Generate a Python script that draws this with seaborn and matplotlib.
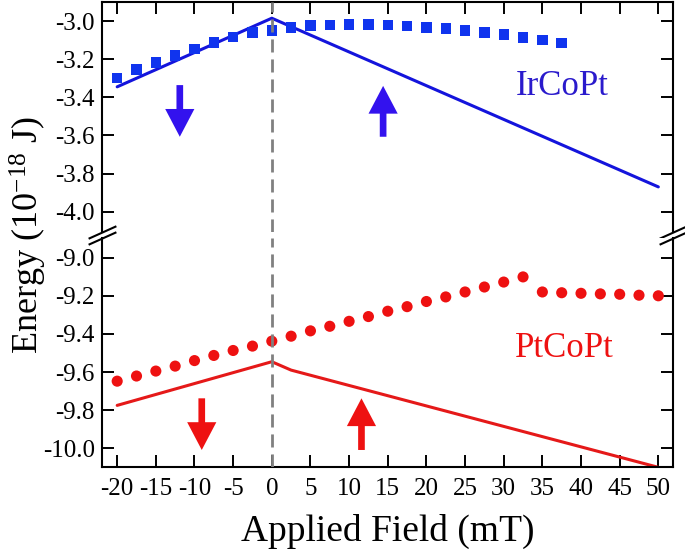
import numpy as np
import pandas as pd
import matplotlib
matplotlib.use("Agg")
import matplotlib.pyplot as plt
import seaborn as sns

# --------------------------------------------------
# Data
# --------------------------------------------------
field_ircopt = [-20, -17.5, -15, -12.5, -10, -7.5, -5, -2.5, 0, 2.5, 5, 7.5,
                10, 12.5, 15, 17.5, 20, 22.5, 25, 27.5, 30, 32.5, 35, 37.5]
energy_ircopt = [-3.300, -3.255, -3.217, -3.180, -3.147, -3.112, -3.084, -3.061,
                 -3.050, -3.033, -3.023, -3.020, -3.019, -3.018, -3.020, -3.025,
                 -3.033, -3.040, -3.050, -3.060, -3.070, -3.086, -3.100, -3.114]

field_ptcopt = [-20, -17.5, -15, -12.5, -10, -7.5, -5, -2.5, 0, 2.5, 5, 7.5, 10,
                12.5, 15, 17.5, 20, 22.5, 25, 27.5, 30, 32.5, 35, 37.5, 40, 42.5,
                45, 47.5, 50]
energy_ptcopt = [-9.648, -9.621, -9.595, -9.569, -9.540, -9.513, -9.487, -9.464,
                 -9.438, -9.412, -9.384, -9.360, -9.334, -9.309, -9.281, -9.257,
                 -9.230, -9.206, -9.180, -9.154, -9.128, -9.101, -9.180, -9.184,
                 -9.187, -9.190, -9.192, -9.197, -9.200]

# model lines
fit_field_ircopt = [-20, 0, 50]
fit_energy_ircopt = [-3.345, -2.985, -3.870]
fit_field_ptcopt = [-20, 0, 2.5, 50]
fit_energy_ptcopt = [-9.775, -9.546, -9.590, -10.100]

x_ticks = list(range(-20, 55, 5))
top_yticks = [-4.0, -3.8, -3.6, -3.4, -3.2, -3.0]
bottom_yticks = [-10.0, -9.8, -9.6, -9.4, -9.2, -9.0]

df_ir = pd.DataFrame({"field": field_ircopt, "energy": energy_ircopt})
df_pt = pd.DataFrame({"field": field_ptcopt, "energy": energy_ptcopt})

BLUE = "#1034ee"
BLUE_LINE = "#1414dc"
BLUE_TXT = "#2a1acc"
BLUE_ARROW = "#3312ee"
RED = "#ee1111"
RED_LINE = "#e51919"

# --------------------------------------------------
# Style
# --------------------------------------------------
sns.set_theme(style="ticks")
plt.rcParams["font.family"] = ["Liberation Serif", "DejaVu Serif"]
plt.rcParams["mathtext.default"] = "regular"
plt.rcParams["axes.unicode_minus"] = False
for key in ("text.color", "axes.labelcolor", "xtick.color", "ytick.color",
            "axes.edgecolor"):
    plt.rcParams[key] = "black"

fig = plt.figure(figsize=(6.85, 5.57), dpi=100)
gs = fig.add_gridspec(2, 1, left=0.1485, right=0.9825, top=0.9964,
                      bottom=0.161, hspace=0.026)
ax_top = fig.add_subplot(gs[0])
ax_bot = fig.add_subplot(gs[1], sharex=ax_top)

# --------------------------------------------------
# Top panel: IrCoPt
# --------------------------------------------------
sns.lineplot(x=fit_field_ircopt, y=fit_energy_ircopt, color=BLUE_LINE, lw=2.2, ax=ax_top)
sns.scatterplot(data=df_ir, x="field", y="energy", marker="s", s=56,
                color=BLUE, edgecolor="none", ax=ax_top, zorder=3)
ax_top.text(37.6, -3.388, "IrCoPt", color=BLUE_TXT, fontsize=25,
            ha="center", va="baseline")

# --------------------------------------------------
# Bottom panel: PtCoPt
# --------------------------------------------------
sns.lineplot(x=fit_field_ptcopt, y=fit_energy_ptcopt, color=RED_LINE, lw=2.2, ax=ax_bot)
sns.scatterplot(data=df_pt, x="field", y="energy", marker="o", s=64,
                color=RED, edgecolor="none", ax=ax_bot, zorder=3)
ax_bot.text(37.9, -9.52, "PtCoPt", color=RED, fontsize=25,
            ha="center", va="baseline")

# arrows
arrow_kw = dict(arrowstyle="simple,head_length=1.0,head_width=1.05,tail_width=0.24",
                mutation_scale=20, shrinkA=0, shrinkB=0, lw=0)
ax_top.annotate("", xy=(-11.9, -3.607), xytext=(-11.9, -3.336),
                arrowprops=dict(color=BLUE_ARROW, **arrow_kw))
ax_top.annotate("", xy=(14.4, -3.34), xytext=(14.4, -3.607),
                arrowprops=dict(color=BLUE_ARROW, **arrow_kw))
ax_bot.annotate("", xy=(-9.06, -10.009), xytext=(-9.06, -9.738),
                arrowprops=dict(color=RED, **arrow_kw))
ax_bot.annotate("", xy=(11.6, -9.738), xytext=(11.6, -10.009),
                arrowprops=dict(color=RED, **arrow_kw))

# dashed zero-field line
for ax in (ax_top, ax_bot):
    ax.axvline(0, color="#808080", lw=2, dashes=(4.7, 2.5), zorder=5)

# --------------------------------------------------
# Axes, ticks, break marks
# --------------------------------------------------
ax_top.set_xlim(-22, 51.9)
ax_top.set_ylim(-4.105, -2.9)
ax_bot.set_ylim(-10.1, -8.895)
ax_top.set_xticks(x_ticks)
ax_top.set_yticks(top_yticks)
ax_bot.set_yticks(bottom_yticks)
ax_top.set_yticklabels([f"{v:.1f}" for v in top_yticks])
ax_bot.set_yticklabels([f"{v:.1f}" for v in bottom_yticks])
ax_bot.set_xticklabels([str(v) for v in x_ticks])

for ax in (ax_top, ax_bot):
    ax.set_xlabel("")
    ax.set_ylabel("")
    for sp in ax.spines.values():
        sp.set_linewidth(1.5)
        sp.set_color("black")
        sp.set_visible(True)
    ax.tick_params(direction="in", length=8.5, width=1.4, labelsize=18,
                   colors="black", right=True, pad=5)

ax_top.spines["bottom"].set_visible(False)
ax_bot.spines["top"].set_visible(False)
ax_top.tick_params(axis="x", top=True, bottom=False, labelbottom=False)
ax_bot.tick_params(axis="x", top=False, bottom=True, pad=8)

brk = dict(marker=[(-1, -0.45), (1, 0.45)], markersize=20, linestyle="none",
           color="black", mec="black", mew=1.5, clip_on=False)
ax_top.plot([0, 1], [0, 0], transform=ax_top.transAxes, **brk)
ax_bot.plot([0, 1], [1, 1], transform=ax_bot.transAxes, **brk)

ax_bot.set_xlabel("Applied Field (mT)", fontsize=27, labelpad=10)
fig.text(0.042, 0.578, "Energy (10$^{-18}$ J)", rotation=90, fontsize=26,
         ha="center", va="center")

fig.savefig("out.png", dpi=100)
